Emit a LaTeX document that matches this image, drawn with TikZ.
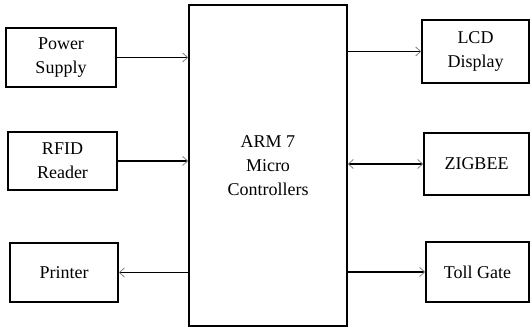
\documentclass[tikz,border=0pt]{standalone}
\usepackage{fontspec}
\setmainfont{Liberation Serif}
\usetikzlibrary{arrows.meta, positioning}
\tikzset{
  blk/.style 2 args={
    draw=black, line width=1.5pt, fill=white,
    minimum width=#1, minimum height=#2,
    align=center, inner sep=2pt,
    font=\fontsize{18}{24}\selectfont,
  },
  arr/.style={
    -{Straight Barb[length=5pt,width=9pt,color=gray,line width=0.8pt]},
    line width=1.5pt, color=black,
  },
  biarr/.style={
    {Straight Barb[length=5pt,width=9pt,color=gray,line width=0.8pt]}-{Straight Barb[length=5pt,width=9pt,color=gray,line width=0.8pt]},
    line width=1.5pt, color=black,
  },
}

\begin{document}
\begin{tikzpicture}[x=1pt, y=-1pt]
\useasboundingbox (0,0) rectangle (531,328);

%% -- controller ---------------------------------------------
\node[blk={158pt}{321pt}] (mcu) at (268,165.5) {ARM 7\\Micro\\Controllers};

%% -- left column --------------------------------------------
\node[blk={110pt}{59pt}] (power) at (61,57.5) {Power\\Supply};
\node[blk={109pt}{58pt}] (rfid) at (62.5,161) {RFID\\Reader};
\node[blk={108pt}{59pt}] (printer) at (64,272.5) {Printer};

%% -- right column -------------------------------------------
\node[blk={107pt}{63pt}] (lcd) at (475.5,51.5) {LCD\\Display};
\node[blk={105pt}{62pt}] (zigbee) at (476.5,164) {ZIGBEE};
\node[blk={103pt}{60pt}] (toll) at (477.5,272) {Toll Gate};

%% -- arrows -------------------------------------------------
\draw[arr] (power.east) -- (power.east -| mcu.west);
\draw[arr] (rfid.east) -- (rfid.east -| mcu.west);
\draw[arr] (printer.east -| mcu.west) -- (printer.east);
\draw[arr] (lcd.west -| mcu.east) -- (lcd.west);
\draw[biarr] (zigbee.west -| mcu.east) -- (zigbee.west);
\draw[arr] (toll.west -| mcu.east) -- (toll.west);

\end{tikzpicture}
\end{document}
